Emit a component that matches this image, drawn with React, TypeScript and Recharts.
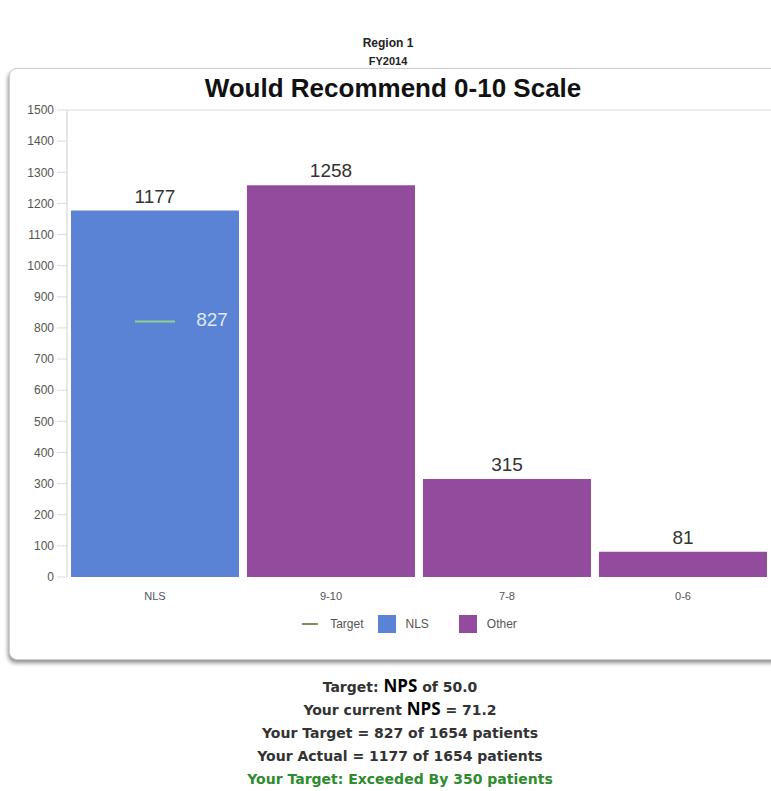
import React from "react";
import { Bar, ComposedChart, LabelList, Legend, Line, ReferenceLine, XAxis, YAxis } from "recharts";

const categories = ["NLS", "9-10", "7-8", "0-6"];
const nlsValues = [1177, null, null, null];
const otherValues = [null, 1258, 315, 81];
const targetValues = [827, null, null, null];
const yTicks = [0, 100, 200, 300, 400, 500, 600, 700, 800, 900, 1000, 1100, 1200, 1300, 1400, 1500];

const data = categories.map((name, i) => ({
    name,
    nls: nlsValues[i],
    other: otherValues[i],
    target: targetValues[i],
}));

const BLUE = "#5a83d6";
const PURPLE = "#924b9d";
const GREEN = "#8fd08f";

const footerLines = [
    { pre: "Target: ", nps: "NPS", post: " of 50.0" },
    { pre: "Your current ", nps: "NPS", post: " = 71.2" },
    { pre: "Your Target = 827 of 1654 patients" },
    { pre: "Your Actual = 1177 of 1654 patients" },
    { pre: "Your Target: Exceeded By 350 patients", green: true },
];

const TargetDot = (props: any) => {
    const { cx, cy, value } = props;
    if (value == null || cx == null || cy == null) return null;
    return (
        <g>
            <line x1={cx - 20} x2={cx + 20} y1={cy + 2} y2={cy + 2} stroke={GREEN} strokeWidth={2} />
            <text x={cx + 57} y={cy + 6} textAnchor="middle" fontSize={19} fill="#dfe8f7">
                {value}
            </text>
        </g>
    );
};

const renderLegend = () => (
    <div style={{ display: "flex", justifyContent: "center", alignItems: "center", fontSize: 12, color: "#555", paddingLeft: 48 }}>
        <span style={{ display: "inline-block", width: 16, height: 2, background: "#8a8a5a", marginRight: 12 }} />
        <span style={{ marginRight: 14 }}>Target</span>
        <span style={{ display: "inline-block", width: 18, height: 18, background: BLUE, marginRight: 10 }} />
        <span style={{ marginRight: 30 }}>NLS</span>
        <span style={{ display: "inline-block", width: 18, height: 18, background: PURPLE, marginRight: 10 }} />
        <span>Other</span>
    </div>
);

const hideEmpty = (v: any) => (v == null || v === 0 ? "" : v);

const App: React.FC = () => {
    return (
        <div
            style={{
                position: "absolute",
                left: 0,
                top: 0,
                width: 771,
                height: 791,
                overflow: "hidden",
                background: "#fff",
                fontFamily: "'Liberation Sans', Arial, sans-serif",
            }}
        >
            <div style={{ position: "absolute", top: 36, width: 776, textAlign: "center", fontWeight: "bold", fontSize: 12, color: "#222" }}>
                Region 1
            </div>
            <div style={{ position: "absolute", top: 55, width: 776, textAlign: "center", fontWeight: "bold", fontSize: 11, color: "#222" }}>
                FY2014
            </div>
            <div
                style={{
                    position: "absolute",
                    left: 9,
                    top: 68,
                    width: 790,
                    height: 590,
                    border: "1px solid #cfcfcf",
                    borderRadius: 8,
                    boxShadow: "-1px 3px 4px rgba(0,0,0,0.45)",
                    background: "#fff",
                }}
            />
            <div
                style={{
                    position: "absolute",
                    top: 73,
                    left: 0,
                    width: 786,
                    textAlign: "center",
                    fontWeight: "bold",
                    fontSize: 26,
                    color: "#111",
                }}
            >
                Would Recommend 0-10 Scale
            </div>
            <div style={{ position: "absolute", left: 0, top: 0 }}>
                <ComposedChart
                    width={771}
                    height={791}
                    data={data}
                    margin={{ top: 110, right: 0, left: 0, bottom: 184 }}
                    barCategoryGap={4}
                >
                    <ReferenceLine y={1500} stroke="#dcdcdc" />
                    <XAxis
                        dataKey="name"
                        axisLine={false}
                        tickLine={false}
                        tick={{ fontSize: 11, fill: "#555" }}
                        tickMargin={9}
                        height={30}
                    />
                    <YAxis
                        domain={[0, 1500]}
                        ticks={yTicks}
                        width={67}
                        interval={0}
                        axisLine={{ stroke: "#cfcfcf" }}
                        tickLine={{ stroke: "#dddddd" }}
                        tickSize={10}
                        tickMargin={3}
                        tick={{ fontSize: 12, fill: "#555" }}
                    />
                    <Bar dataKey="nls" name="NLS" stackId="a" fill={BLUE} isAnimationActive={false}>
                        <LabelList dataKey="nls" position="top" offset={8} fontSize={19} fill="#333" formatter={hideEmpty} />
                    </Bar>
                    <Bar dataKey="other" name="Other" stackId="a" fill={PURPLE} isAnimationActive={false}>
                        <LabelList dataKey="other" position="top" offset={8} fontSize={19} fill="#333" formatter={hideEmpty} />
                    </Bar>
                    <Line
                        dataKey="target"
                        name="Target"
                        stroke="none"
                        dot={<TargetDot />}
                        activeDot={false}
                        isAnimationActive={false}
                    />
                    <Legend verticalAlign="middle" content={renderLegend} wrapperStyle={{ top: 615, left: 0, width: 771 }} />
                </ComposedChart>
            </div>
            <div
                style={{
                    position: "absolute",
                    top: 675,
                    left: 0,
                    width: 800,
                    textAlign: "center",
                    fontWeight: "bold",
                    fontSize: 14,
                    fontFamily: "'DejaVu Sans', sans-serif",
                    color: "#333",
                }}
            >
                {footerLines.map((l, i) => (
                    <div key={i} style={{ height: 23.3, lineHeight: "22px", color: l.green ? "#2e8b2e" : "#333" }}>
                        {l.pre}
                        {l.nps && (
                            <span style={{ fontFamily: "'Open Sans', sans-serif", fontSize: 17, color: "#000" }}>{l.nps}</span>
                        )}
                        {l.post}
                    </div>
                ))}
            </div>
        </div>
    );
};

export default App;
